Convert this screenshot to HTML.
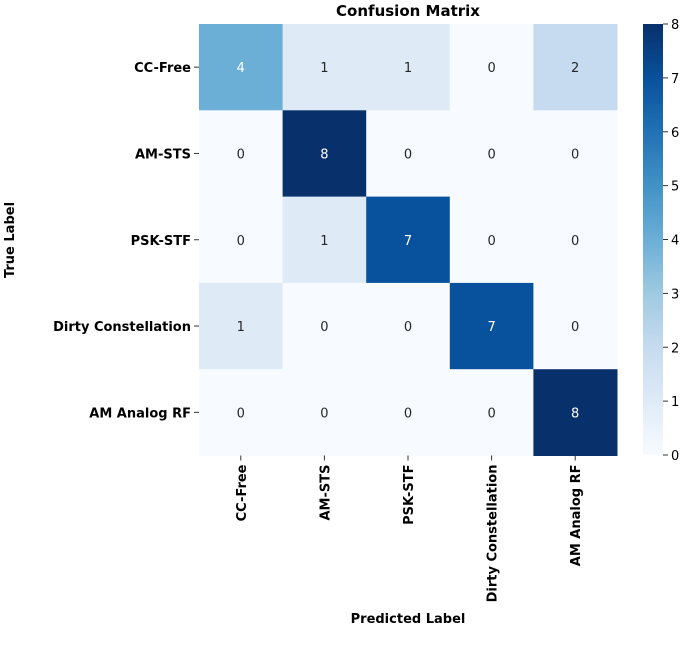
<!DOCTYPE html>
<html><head><meta charset="utf-8"><style>
body{margin:0;background:#fff;}
svg{display:block;font-family:"DejaVu Sans","Liberation Sans",sans-serif;}
</style></head><body>
<svg id="chart" width="685" height="652" viewBox="0 0 685 652">
<defs><linearGradient id="cbg" x1="0" y1="1" x2="0" y2="0">
<stop offset="0" stop-color="#f7fbff"/><stop offset="0.125" stop-color="#deebf7"/><stop offset="0.25" stop-color="#c6dbef"/><stop offset="0.375" stop-color="#9ecae1"/><stop offset="0.5" stop-color="#6baed6"/><stop offset="0.625" stop-color="#4292c6"/><stop offset="0.75" stop-color="#2171b5"/><stop offset="0.875" stop-color="#08519c"/><stop offset="1" stop-color="#08306b"/></linearGradient></defs>
<text x="408" y="16" text-anchor="middle" font-weight="bold" font-size="15">Confusion Matrix</text>
<g id="cells"></g>
<text transform="translate(14,240) rotate(-90)" text-anchor="middle" font-weight="bold" font-size="13">True Label</text>
<text x="408" y="623" text-anchor="middle" font-weight="bold" font-size="13">Predicted Label</text>
<rect x="643" y="24" width="20" height="431" fill="url(#cbg)"/>
<g id="cbticks"></g>
</svg>
<script>
const categories = ["CC-Free","AM-STS","PSK-STF","Dirty Constellation","AM Analog RF"];
const row0 = [4,1,1,0,2];
const row1 = [0,8,0,0,0];
const row2 = [0,1,7,0,0];
const row3 = [1,0,0,7,0];
const row4 = [0,0,0,0,8];
const matrix = [row0,row1,row2,row3,row4];
const cbTicks = [0,1,2,3,4,5,6,7,8];
const vmax = 8;

const L=199,R=617,T=24,B=455.5;
const cw=(R-L)/categories.length, ch=(B-T)/categories.length;
const xs=i=>L+i*cw, ys=i=>T+i*ch;
const stops=["#f7fbff","#deebf7","#c6dbef","#9ecae1","#6baed6","#4292c6","#2171b5","#08519c","#08306b"];
function hex(h){return [1,3,5].map(i=>parseInt(h.substr(i,2),16));}
function color(v){const t=Math.max(0,Math.min(1,v/vmax))*(stops.length-1);const i=Math.min(stops.length-2,Math.floor(t));const f=t-i;const a=hex(stops[i]),b=hex(stops[i+1]);return "rgb("+a.map((c,k)=>Math.round(c+(b[k]-c)*f)).join(",")+")";}
const NS="http://www.w3.org/2000/svg";
const g=document.getElementById("cells");
function mk(tag,attrs,parent){const e=document.createElementNS(NS,tag);for(const k in attrs)e.setAttribute(k,attrs[k]);parent.appendChild(e);return e;}
matrix.forEach((row,r)=>{row.forEach((v,c)=>{
  const rect=mk("rect",{x:xs(c),y:ys(r),width:cw+0.5,height:ch+0.5,fill:color(v)},g);
  
  
  const t=mk("text",{x:xs(c)+cw/2,y:ys(r)+ch/2+5,"text-anchor":"middle","font-size":"13",fill:v>=4?"#ffffff":"#262626"},g);
  t.textContent=v;
  
  
});});
categories.forEach((name,i)=>{
  const y=ys(i)+ch/2;
  mk("line",{x1:L-5,x2:L,y1:y,y2:y,stroke:"#333"},g);
  const t=mk("text",{x:L-8,y:y+5,"text-anchor":"end","font-size":"13","font-weight":"bold"},g);
  t.textContent=name;
  
  
  const x=xs(i)+cw/2;
  mk("line",{x1:x,x2:x,y1:B,y2:B+5,stroke:"#333"},g);
  const tx=mk("text",{transform:"translate("+(x+5)+","+(B+9)+") rotate(-90)","text-anchor":"end","font-size":"13","font-weight":"bold"},g);
  tx.textContent=name;
  
  
});
const cb=document.getElementById("cbticks");
cbTicks.forEach(v=>{
  const y=455-(v/vmax)*431;
  mk("line",{x1:663,x2:668,y1:y,y2:y,stroke:"#333"},cb);
  const t=mk("text",{x:671,y:y+5,"font-size":"13"},cb);
  t.textContent=v;
  
  
});
</script>
</body></html>
